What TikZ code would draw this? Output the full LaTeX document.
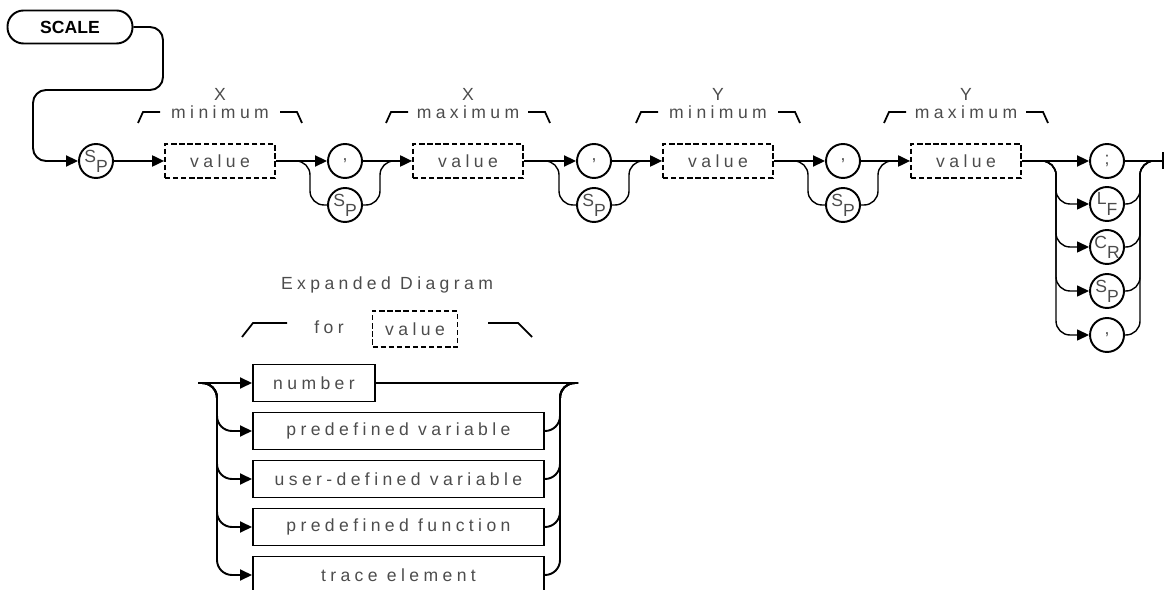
\documentclass[tikz,border=0pt]{standalone}
\usepackage{fontspec}
\setmainfont{Liberation Sans}
\newfontfamily\plotfont[LetterSpace=25]{Liberation Sans}
\usetikzlibrary{arrows.meta, positioning}
\newcommand{\ctrlch}[2]{\raisebox{2.8pt}{#1}\raisebox{-3pt}{#2}}

\begin{document}
\begin{tikzpicture}[
    x=0.02cm, y=-0.02cm, line width=1.1pt,
    >={Triangle[length=0.24cm, width=0.22cm]},
    keybox/.style={draw, rounded corners=0.32cm, minimum width=2.5cm, minimum height=0.66cm, font=\bfseries\fontsize{10}{12}\selectfont},
    param/.style={draw, dash pattern=on 3pt off 1.6pt, line width=1pt, minimum width=2.2cm, minimum height=0.68cm, text=black!70, font=\plotfont\fontsize{10}{12}\selectfont},
    sym/.style={draw, circle, minimum size=0.68cm, inner sep=0pt, text=black!70, font=\plotfont\fontsize{10}{11}\selectfont},
    elem/.style={draw, anchor=west, minimum height=0.74cm, text=black!70, font=\plotfont\fontsize{10}{12}\selectfont},
    lbl/.style={inner sep=0pt, text=black!70, font=\plotfont\fontsize{10}{12}\selectfont},
    brk/.style={line width=1pt},
    bypass/.style={line width=0.8pt, rounded corners=0.28cm}
]
    \useasboundingbox (0,0) rectangle (1165,590);

    % --- command keyword ---
    \node[keybox] (scale) at (70,27) {SCALE};
    \node[sym] (sp0) at (96,161) {\ctrlch{S}{P}};
    \draw[->, rounded corners=0.26cm] (scale.east) -- (163,27) -- (163,90) -- (33,90) -- (33,161) -- (sp0.west);

    % --- the four values ---
    \foreach \i/\cx/\axis/\word in {1/220/X/minimum, 2/468/X/maximum, 3/718/Y/minimum, 4/966/Y/maximum} {
        \node[param] (v\i) at (\cx,161) {value};
        \node[lbl] (w\i) at (\cx,112) {\word};
        \node[lbl] (a\i) at (\cx,94) {\axis};
        \draw[brk] (\cx-82,123) -- (\cx-77,112) -- (\cx-60,112);
        \draw[brk] (\cx+60,112) -- (\cx+77,112) -- (\cx+82,123);
    }
    \draw[->] (sp0) -- (v1);

    % --- separators: comma or space ---
    \foreach \i/\cx in {1/345, 2/594, 3/843} {
        \node[sym] (c\i) at (\cx,161) {,};
        \node[sym] (s\i) at (\cx,205) {\ctrlch{S}{P}};
        \coordinate (in\i) at (\cx-49,161);
        \coordinate (out\i) at (\cx+49,161);
        \draw[bypass] (in\i) -- (\cx-35,161) |- (s\i.west);
        \draw[bypass] (s\i.east) -| (\cx+35,161) -- (out\i);
    }
    \draw[->] (v1.east) -- (c1.west);
    \draw[->] (c1.east) -- (v2.west);
    \draw[->] (v2.east) -- (c2.west);
    \draw[->] (c2.east) -- (v3.west);
    \draw[->] (v3.east) -- (c3.west);
    \draw[->] (c3.east) -- (v4.west);

    % --- terminators ---
    \node[sym] (t0) at (1107,161) {;};
    \node[sym] (t1) at (1107,204) {\ctrlch{L}{F}};
    \node[sym] (t2) at (1107,247) {\ctrlch{C}{R}};
    \node[sym] (t3) at (1107,291) {\ctrlch{S}{P}};
    \node[sym] (t4) at (1107,335) {,};
    \coordinate (tin) at (1042,161);
    \coordinate (tout) at (1154,161);
    \coordinate (tend) at (1164,161);
    \draw[->] (v4.east) -- (t0.west);
    \draw[-{Bar[width=0.34cm, line width=1.4pt]}] (t0.east) -- (tend);
    \foreach \k in {1,...,4} {
        \draw[bypass, ->] (tin) -- (1056,161) |- (t\k.west);
        \draw[bypass] (t\k.east) -| (1140,161) -- (tout);
    }

    % --- expanded diagram for value ---
    \node[lbl] (exph) at (387,285) {Expanded Diagram};
    \node[lbl] (forw) at (329,327) {for};
    \node[param, minimum width=1.7cm, minimum height=0.72cm] (fv) at (415,329) {value};
    \draw[brk] (242,337) -- (253,323) -- (287,323);
    \draw[brk] (488,323) -- (518,323) -- (532,337);

    \coordinate (ein) at (198,383);
    \coordinate (eout) at (578,383);
    \node[elem, minimum width=2.44cm] (num) at (252,383) {number};
    \foreach \k/\nm/\txt in {1/pvar/predefined variable, 2/uvar/user-defined variable, 3/pfun/predefined function, 4/trel/trace element} {
        \node[elem, minimum width=5.82cm] (\nm) at (252,383+48*\k) {\txt};
    }
    \draw[->] (ein) -- (num.west);
    \draw (num.east) -- (eout);
    \foreach \nm in {pvar,uvar,pfun,trel} {
        \draw[->, rounded corners=0.3cm] (ein) -- (217,383) |- (\nm.west);
        \draw[rounded corners=0.3cm] (\nm.east) -| (560,383) -- (eout);
    }
\end{tikzpicture}
\end{document}
